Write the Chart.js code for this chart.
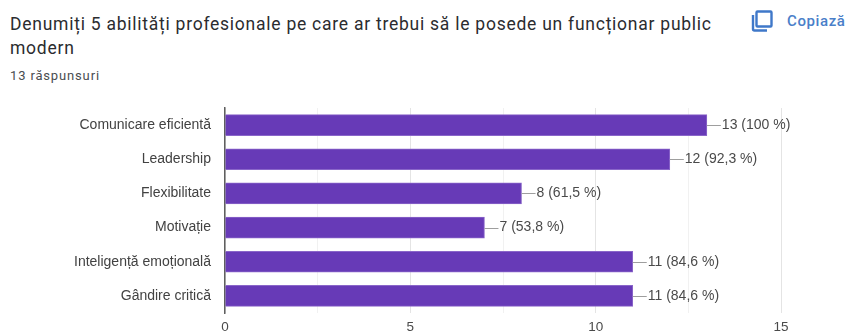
<!DOCTYPE html>
<html lang="ro">
<head>
<meta charset="utf-8">
<title>Abilități profesionale</title>
<script src="https://cdn.jsdelivr.net/npm/chart.js@4"></script>
<style>
  html, body { margin: 0; padding: 0; background: #fff; }
  body { width: 851px; height: 331px; position: relative; overflow: hidden; }
  #myChart { position: absolute; left: 0; top: 0; }
  .title { position: absolute; left: 10px; top: 13px; width: 715px; font: 17.5px/23.5px Roboto, sans-serif; letter-spacing: .75px; color: #2b2c2f; }
  .count { position: absolute; left: 10px; top: 68px; font: 13px/16px Roboto, sans-serif; letter-spacing: .85px; color: #4a4d50; }
  .copy { position: absolute; left: 787px; top: 11px; font: 500 15px/20px Roboto, sans-serif; letter-spacing: .6px; color: #4a7fc9; white-space: nowrap; }
  svg.icon { position: absolute; left: 750px; top: 8px; }
</style>
</head>
<body>
<div class="title">Denumiți 5 abilități profesionale pe care ar trebui să le posede un funcționar public modern</div>
<div class="count">13 răspunsuri</div>
<svg class="icon" width="26" height="26" viewBox="0 0 26 26" fill="none" stroke="#3f78c9" stroke-width="2.4">
  <rect x="6.5" y="3.5" width="15" height="15" rx="1"/>
  <path d="M3 7 V21 a1.5 1.5 0 0 0 1.5 1.5 H17"/>
</svg>
<div class="copy">Copiază</div>
<canvas id="myChart" width="851" height="331"></canvas>
<script>
  // raspunsuri pe fiecare abilitate
  const categories = ['Comunicare eficientă', 'Leadership', 'Flexibilitate', 'Motivație', 'Inteligență emoțională', 'Gândire critică'];
  const counts = [13, 12, 8, 7, 11, 11];
  const valueLabels = ['13 (100 %)', '12 (92,3 %)', '8 (61,5 %)', '7 (53,8 %)', '11 (84,6 %)', '11 (84,6 %)'];

  const fontFamily = '"Liberation Sans", Arial, sans-serif';

  // linia scurta si eticheta de la capatul fiecarei bare
  const barLabels = {
    id: 'barLabels',
    afterDatasetsDraw(chart) {
      const c = chart.ctx;
      chart.getDatasetMeta(0).data.forEach((bar, i) => {
        c.save();
        c.strokeStyle = '#9e9e9e';
        c.lineWidth = 1;
        c.beginPath();
        c.moveTo(bar.x, Math.round(bar.y) + 0.5);
        c.lineTo(bar.x + 14, Math.round(bar.y) + 0.5);
        c.stroke();
        c.fillStyle = '#4a4a4a';
        c.font = '14px ' + fontFamily;
        c.textBaseline = 'middle';
        c.fillText(valueLabels[i], bar.x + 15, bar.y);
        c.restore();
      });
    }
  };

  new Chart(document.getElementById('myChart'), {
    type: 'bar',
    data: {
      labels: categories,
      datasets: [{
        data: counts,
        backgroundColor: '#673ab7',
        borderColor: '#8a66c9',
        borderWidth: 1,
        barThickness: 21
      }]
    },
    options: {
      indexAxis: 'y',
      responsive: false,
      animation: false,
      layout: { padding: { top: 108, right: 70, bottom: 0, left: 0 } },
      plugins: { legend: { display: false }, tooltip: { enabled: false } },
      scales: {
        x: {
          min: 0,
          max: 15,
          afterFit(scale) { scale.height = 18; },
          ticks: {
            stepSize: 2.5,
            autoSkip: false,
            maxRotation: 0,
            padding: 6,
            color: '#4a4a4a',
            font: { family: fontFamily, size: 13.5 },
            callback: v => (v % 5 === 0 ? v : '')
          },
          grid: {
            drawTicks: false,
            color: ctx => (ctx.tick.value % 5 === 0 ? '#e4e4e4' : '#f1f1f1')
          },
          border: { display: false }
        },
        y: {
          afterFit(scale) {
            scale.width = 225;
            // fara spatiu rezervat pentru prima si ultima eticheta
            scale.paddingTop = 0;
            scale.paddingBottom = 0;
          },
          ticks: {
            padding: 14,
            color: '#424242',
            font: { family: fontFamily, size: 14 }
          },
          grid: { display: false, drawTicks: false },
          border: { color: '#5f5f5f', width: 1.5 }
        }
      }
    },
    plugins: [barLabels]
  });
</script>
</body>
</html>
